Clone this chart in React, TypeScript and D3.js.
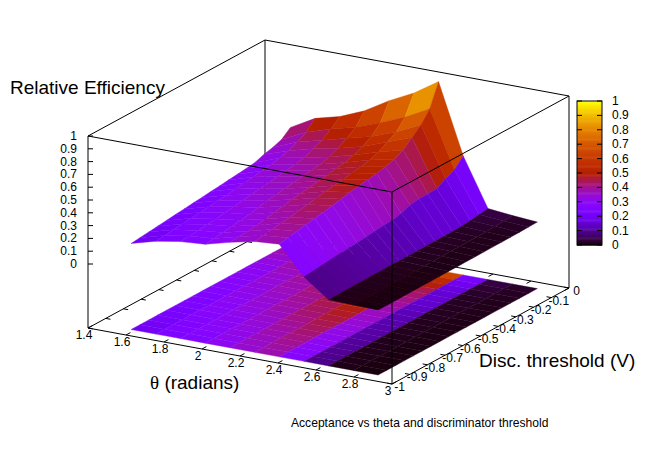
import React from 'react'
import * as d3 from 'd3'

// Bin centres of the acceptance map
const thetas = [1.58, 1.71, 1.84, 1.97, 2.10, 2.23, 2.36, 2.49, 2.62, 2.75, 2.88]
const thresholds = [-0.95, -0.90, -0.85, -0.80, -0.75, -0.70, -0.65, -0.60, -0.55, -0.50, -0.45, -0.40, -0.35, -0.30, -0.25, -0.20, -0.15, -0.10, -0.05]

// One row per threshold (same order), one value per theta
const efficiency = [
  [0.172, 0.225, 0.258, 0.272, 0.323, 0.365, 0.380, 0.160, 0.016, 0.012, 0.007],
  [0.180, 0.232, 0.264, 0.280, 0.330, 0.375, 0.392, 0.167, 0.017, 0.012, 0.007],
  [0.187, 0.240, 0.270, 0.290, 0.335, 0.385, 0.405, 0.174, 0.018, 0.013, 0.008],
  [0.195, 0.248, 0.278, 0.300, 0.345, 0.395, 0.420, 0.181, 0.018, 0.013, 0.008],
  [0.202, 0.255, 0.285, 0.310, 0.355, 0.405, 0.430, 0.188, 0.019, 0.014, 0.009],
  [0.210, 0.262, 0.295, 0.320, 0.368, 0.418, 0.442, 0.195, 0.020, 0.014, 0.009],
  [0.217, 0.270, 0.305, 0.335, 0.380, 0.430, 0.455, 0.202, 0.020, 0.015, 0.010],
  [0.225, 0.278, 0.315, 0.350, 0.395, 0.442, 0.470, 0.209, 0.021, 0.015, 0.010],
  [0.232, 0.285, 0.325, 0.360, 0.405, 0.455, 0.485, 0.216, 0.022, 0.016, 0.011],
  [0.240, 0.295, 0.335, 0.370, 0.415, 0.465, 0.498, 0.223, 0.022, 0.016, 0.011],
  [0.247, 0.305, 0.345, 0.380, 0.425, 0.475, 0.508, 0.230, 0.023, 0.017, 0.012],
  [0.255, 0.315, 0.355, 0.390, 0.435, 0.488, 0.520, 0.245, 0.024, 0.018, 0.012],
  [0.262, 0.325, 0.365, 0.400, 0.450, 0.500, 0.535, 0.272, 0.024, 0.018, 0.013],
  [0.270, 0.335, 0.375, 0.410, 0.460, 0.515, 0.555, 0.282, 0.025, 0.019, 0.014],
  [0.280, 0.350, 0.390, 0.430, 0.480, 0.540, 0.590, 0.283, 0.025, 0.020, 0.014],
  [0.305, 0.370, 0.420, 0.460, 0.510, 0.580, 0.650, 0.285, 0.028, 0.022, 0.015],
  [0.322, 0.400, 0.450, 0.500, 0.550, 0.620, 0.710, 0.326, 0.035, 0.026, 0.016],
  [0.347, 0.440, 0.500, 0.550, 0.620, 0.700, 0.800, 0.359, 0.045, 0.030, 0.018],
  [0.403, 0.510, 0.560, 0.640, 0.755, 0.850, 0.975, 0.430, 0.055, 0.035, 0.020],
]

const thetaTicks = [1.4, 1.6, 1.8, 2, 2.2, 2.4, 2.6, 2.8, 3]
const thresholdTicks = [-1, -0.9, -0.8, -0.7, -0.6, -0.5, -0.4, -0.3, -0.2, -0.1, 0]
const zTicks = [0, 0.1, 0.2, 0.3, 0.4, 0.5, 0.6, 0.7, 0.8, 0.9, 1]

const font = '"Liberation Sans", Arial, sans-serif'

// gnuplot's default palette (rgbformulae 7,5,15)
const palette = (v: number) => {
  const x = Math.max(0, Math.min(1, v))
  const r = Math.sqrt(x)
  const g = x * x * x
  const b = Math.max(0, Math.sin(2 * Math.PI * x))
  return d3.rgb(r * 255, g * 255, b * 255).formatHex()
}

// the axonometric view: each axis contributes its own pixel offset
const originX = 88
const originY = 328
const thetaToX = d3.scaleLinear().domain([1.4, 3]).range([0, 304])
const thetaToY = d3.scaleLinear().domain([1.4, 3]).range([0, 56])
const thrToX = d3.scaleLinear().domain([-1, 0]).range([0, 177])
const thrToY = d3.scaleLinear().domain([-1, 0]).range([0, -96])
const zToY = d3.scaleLinear().domain([-0.5, 1]).range([0, -192])
const zBase = -0.5

const project = (t: number, v: number, z: number): [number, number] => [
  originX + thetaToX(t) + thrToX(v),
  originY + thetaToY(t) + thrToY(v) + zToY(z),
]

const poly = d3.line<[number, number]>()

const cbY = d3.scaleLinear().domain([0, 1]).range([245, 101])
const cbSteps = d3.range(0, 128)

type Cell = { d: string; fill: string }

function buildCells(flat: boolean): Cell[] {
  const cells: Cell[] = []
  // back to front so the near faces paint over the far ones
  for (let j = thresholds.length - 2; j >= 0; j--) {
    for (let i = 0; i < thetas.length - 1; i++) {
      const corners: [number, number][] = [[i, j], [i + 1, j], [i + 1, j + 1], [i, j + 1]]
      const pts = corners.map(([a, b]) =>
        project(thetas[a], thresholds[b], flat ? zBase : efficiency[b][a]))
      const mean = d3.mean(corners, ([a, b]) => efficiency[b][a]) as number
      cells.push({ d: poly(pts) + 'Z', fill: palette(mean) })
    }
  }
  return cells
}

function Seg({ a, b }: { a: [number, number]; b: [number, number] }) {
  return <line x1={a[0]} y1={a[1]} x2={b[0]} y2={b[1]} stroke="#000" strokeWidth={1} />
}

export default function App() {
  const baseCells = buildCells(true)
  const surfCells = buildCells(false)

  const tickLen = 0.025
  const tickFont = 12
  const titleFont = 19
  return (
    <svg width={654} height={458} style={{ position: 'absolute', left: 0, top: 0, background: '#fff' }} fontFamily={font}>
      {/* back of the box */}
      <Seg a={project(1.4, -1, 1)} b={project(1.4, 0, 1)} />
      <Seg a={project(1.4, 0, 1)} b={project(3, 0, 1)} />
      <Seg a={project(1.4, 0, 1)} b={project(1.4, 0, zBase)} />
      <Seg a={project(3, 0, 1)} b={project(3, 0, zBase)} />
      <Seg a={project(1.4, 0, zBase)} b={project(3, 0, zBase)} />
      <Seg a={project(1.4, 0, zBase)} b={project(1.4, -1, zBase)} />
      {thetaTicks.map(t => (
        <Seg key={'bx' + t} a={project(t, 0, zBase)} b={project(t, -tickLen, zBase)} />
      ))}
      {thresholdTicks.map(v => (
        <Seg key={'by' + v} a={project(1.4, v, zBase)} b={project(1.4 + tickLen, v, zBase)} />
      ))}

      {/* projected map, then the surface */}
      {baseCells.map((c, i) => <path key={'b' + i} d={c.d} fill={c.fill} stroke={c.fill} strokeWidth={0.4} />)}
      {surfCells.map((c, i) => <path key={'s' + i} d={c.d} fill={c.fill} stroke={c.fill} strokeWidth={0.4} />)}

      {/* front of the box */}
      <Seg a={project(1.4, -1, 1)} b={project(3, -1, 1)} />
      <Seg a={project(3, -1, 1)} b={project(3, 0, 1)} />
      <Seg a={project(3, -1, 1)} b={project(3, -1, zBase)} />
      <Seg a={project(1.4, -1, 1)} b={project(1.4, -1, zBase)} />
      <Seg a={project(1.4, -1, zBase)} b={project(3, -1, zBase)} />
      <Seg a={project(3, -1, zBase)} b={project(3, 0, zBase)} />

      {/* theta axis */}
      {thetaTicks.map(t => {
        const p = project(t, -1, zBase)
        return (
          <g key={'x' + t}>
            <Seg a={p} b={project(t, -1 + tickLen, zBase)} />
            <text x={p[0] - 4} y={p[1] + 11} fontSize={tickFont} textAnchor="middle">{t}</text>
          </g>
        )
      })}

      {/* threshold axis */}
      {thresholdTicks.map(v => {
        const p = project(3, v, zBase)
        return (
          <g key={'y' + v}>
            <Seg a={p} b={project(3 - tickLen, v, zBase)} />
            <text x={p[0] + 7.5} y={p[1] + 7} fontSize={tickFont} textAnchor="middle">{v}</text>
          </g>
        )
      })}

      {/* z axis */}
      {zTicks.map(z => {
        const p = project(1.4, -1, z)
        return (
          <g key={'z' + z}>
            <line x1={p[0]} y1={p[1]} x2={p[0] + 5} y2={p[1]} stroke="#000" />
            <text x={p[0] - 11} y={p[1] + 4} fontSize={tickFont} textAnchor="end">{z}</text>
          </g>
        )
      })}

      {/* colour box */}
      {cbSteps.map(s => (
        <rect key={s} x={577} y={cbY((s + 1) / 128)} width={25}
          height={cbY(s / 128) - cbY((s + 1) / 128) + 0.5} fill={palette((s + 0.5) / 128)} />
      ))}
      <rect x={577} y={101} width={25} height={144} fill="none" stroke="#000" />
      {zTicks.map(z => (
        <g key={'c' + z}>
          <line x1={577} x2={582} y1={cbY(z)} y2={cbY(z)} stroke="#000" />
          <line x1={597} x2={602} y1={cbY(z)} y2={cbY(z)} stroke="#000" />
          <text x={612} y={cbY(z) + 4} fontSize={tickFont}>{z}</text>
        </g>
      ))}

      {/* labels */}
      <text x={10} y={94} fontSize={titleFont}>Relative Efficiency</text>
      <text x={150} y={389} fontSize={titleFont}>
        <tspan fontFamily='"Liberation Serif", serif'>θ</tspan> (radians)
      </text>
      <text x={479} y={367} fontSize={titleFont}>Disc. threshold (V)</text>
      <text x={291} y={427} fontSize={12.1}>Acceptance vs theta and discriminator threshold</text>
    </svg>
  )
}
